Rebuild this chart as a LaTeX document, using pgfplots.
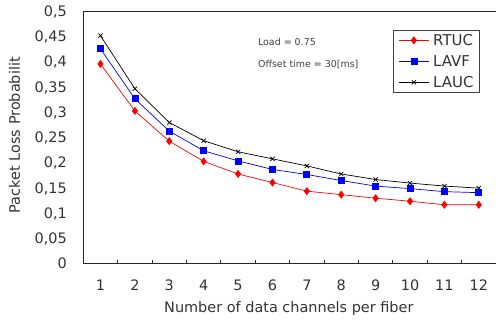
\documentclass[border=0pt]{standalone}
\usepackage{pgfplots}
\pgfplotsset{compat=1.18}
\usepackage{fontspec}
\setmainfont{DejaVu Sans}
\begin{document}
\begin{tikzpicture}
\begin{axis}[
  at={(0,0)}, anchor=south west,
  scale only axis,
  width=412.7bp, height=252.3bp,
  xmin=0.5, xmax=12.5, ymin=0, ymax=0.5,
  axis lines=left, axis line style={-, line width=0.8bp, black!85},
  tick align=inside,
  xtick={1,...,12},
  minor xtick={1.5,2.5,...,11.5},
  major x tick style={draw=none},
  minor x tick style={line width=0.8bp, black!85},
  minor tick length=3.5bp,
  ytick={0,0.05,...,0.5},
  y tick style={draw=none},
  scaled y ticks=false,
  /pgf/number format/assume math mode=true,
  /pgf/number format/fixed,
  /pgf/number format/precision=2,
  /pgf/number format/use comma,
  tick label style={font=\fontsize{14.5}{17}\selectfont, text=black!80},
  yticklabel style={anchor=base east, inner sep=0pt, xshift=-16.3bp, yshift=-5.4bp},
  xticklabel style={anchor=base, inner sep=0pt, yshift=-27bp},
  xlabel={Number of data channels per fiber},
  ylabel={Packet Loss Probabilit},
  label style={font=\fontsize{14.5}{17}\selectfont, text=black!80},
  xlabel style={at={(axis description cs:0.498,-0.194)}, anchor=base, inner sep=0pt},
  ylabel style={at={(axis description cs:-0.1534,0.508)}, anchor=base, inner sep=0pt, rotate=0},
  legend cell align=left,
  legend image code/.code={\draw[mark repeat=2,mark phase=2,#1] plot coordinates {(0bp,0bp) (15bp,0bp) (30bp,0bp)};},
  legend style={at={(rel axis cs:0.961,0.925)}, anchor=north east,
    draw=black!75, line width=0.8bp, inner xsep=5bp, inner ysep=3.5bp,
    font=\fontsize{15}{18}\selectfont, text=black!80, row sep=8bp, column sep=3bp,
    nodes={inner sep=1bp, text height=11bp, text depth=0bp}},
  every axis plot/.append style={line width=0.7bp},
]
\addplot[red, mark=diamond*, mark size=3.5bp, mark options={solid,fill=red}] coordinates {
(1,0.395) (2,0.302) (3,0.242) (4,0.202) (5,0.177) (6,0.160) (7,0.143) (8,0.136) (9,0.129) (10,0.123) (11,0.116) (12,0.116)};
\addlegendentry{RTUC}
\addplot[blue, mark=square*, mark size=3bp, mark options={solid,fill=blue}] coordinates {
(1,0.425) (2,0.326) (3,0.262) (4,0.223) (5,0.203) (6,0.186) (7,0.176) (8,0.164) (9,0.153) (10,0.148) (11,0.142) (12,0.140)};
\addlegendentry{LAVF}
\addplot[black, mark=x, mark size=3bp, mark options={solid}] coordinates {
(1,0.451) (2,0.346) (3,0.279) (4,0.243) (5,0.221) (6,0.207) (7,0.193) (8,0.177) (9,0.166) (10,0.159) (11,0.153) (12,0.149)};
\addlegendentry{LAUC}
\draw[line width=0.8bp, black!85] (rel axis cs:0,1) -- (rel axis cs:1,1);
\node[anchor=west, inner sep=0pt, font=\fontsize{9.5}{11}\selectfont, text=black!75] at (rel axis cs:0.423,0.877) {Load = 0.75};
\node[anchor=west, inner sep=0pt, font=\fontsize{9.5}{11}\selectfont, text=black!75] at (rel axis cs:0.423,0.786) {Offset time = 30[ms]};
\end{axis}
\pgfresetboundingbox
\path[use as bounding box] (-83.3bp,-56.7bp) rectangle (412.7bp,263.3bp);
\end{tikzpicture}
\end{document}
